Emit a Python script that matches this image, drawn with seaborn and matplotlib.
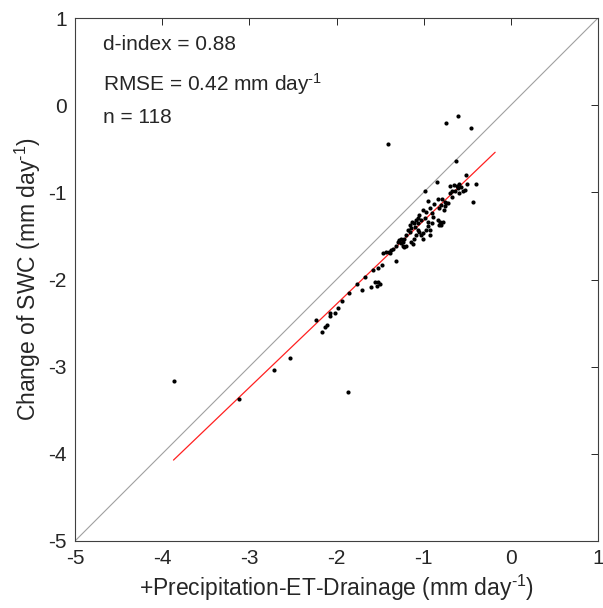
import numpy as np
import pandas as pd
import matplotlib
matplotlib.use("Agg")
import matplotlib.pyplot as plt
import seaborn as sns

# observed points: x = +P-ET-D, y = change of SWC (mm day-1)
x_vals = [
    -0.74, -0.61, -0.46, -1.41, -0.63,
    -0.52, -0.85, -0.99, -0.70, -0.65, -0.62, -0.60, -0.50, -0.40, -0.55,
    -0.59, -0.53, -0.70, -0.67, -0.43, -0.95, -0.84, -0.79, -0.75, -0.80,
    -0.76, -0.82, -0.74, -0.77, -1.01, -0.97, -1.05, -1.07, -1.03, -0.83,
    -0.78, -0.90, -0.82, -1.13, -1.11, -1.09, -0.95, -0.93, -1.16, -1.14,
    -1.18, -1.07, -1.05, -1.03, -1.01, -1.09, -1.11, -1.20, -1.22, -1.26,
    -1.24, -1.01, -1.14, -1.12, -1.22, -1.20, -1.24,
    -1.30, -1.35, -1.39, -1.43, -1.47, -1.32, -1.48, -1.52, -1.58, -1.67,
    -1.77, -1.56, -1.52, -1.50, -1.54, -1.60, -1.71,
    -1.86,
    -2.72, -2.53, -1.87, -2.24, -2.17, -2.13, -2.11, -2.08, -2.07, -2.02,
    -1.98, -1.94, -3.86, -3.12,
    -0.93, -0.91, -0.89, -0.81, -0.80, -0.95, -0.97, -0.93, -0.72, -0.68,
    -0.64, -0.57, -1.16, -1.28, -1.32, -1.26, -1.10, -1.06, -0.98, -1.40,
    -1.37, -0.88, -0.61,
]
y_vals = [
    -0.20, -0.13, -0.26, -0.45, -0.64,
    -0.80, -0.88, -0.99, -0.93, -0.92, -0.93, -0.90, -0.90, -0.91, -0.99,
    -1.01, -0.97, -1.01, -0.99, -1.11, -1.10, -1.08, -1.08, -1.11, -1.14,
    -1.16, -1.18, -1.12, -1.20, -1.20, -1.22, -1.26, -1.30, -1.32, -1.32,
    -1.34, -1.35, -1.38, -1.34, -1.35, -1.32, -1.39, -1.43, -1.37, -1.41,
    -1.43, -1.43, -1.45, -1.49, -1.47, -1.49, -1.53, -1.49, -1.53, -1.53,
    -1.57, -1.53, -1.57, -1.59, -1.63, -1.61, -1.62,
    -1.57, -1.65, -1.70, -1.68, -1.70, -1.79, -1.83, -1.87, -1.89, -1.97,
    -2.05, -2.03, -2.03, -2.05, -2.07, -2.09, -2.12,
    -2.16,
    -3.04, -2.90, -3.29, -2.47, -2.60, -2.55, -2.52, -2.39, -2.42, -2.38,
    -2.33, -2.25, -3.17, -3.37,
    -1.18, -1.24, -1.28, -1.34, -1.37, -1.34, -1.43, -1.49, -1.12, -1.05,
    -0.98, -0.94, -1.45, -1.55, -1.62, -1.58, -1.40, -1.35, -1.30, -1.69,
    -1.66, -1.13, -0.95,
]

# regression line and 1:1 line
fit_slope = 0.957
fit_intercept = -0.368
fit_x = [-3.87, -0.18]
one_to_one = [-5, 1]

ticks = [-5, -4, -3, -2, -1, 0, 1]
unit = r"mm day$^{\text{-1}}$"
stats_text = ["d-index = 0.88", "RMSE = 0.42 " + unit, "n = 118"]
stats_y = [0.70, 0.24, -0.14]

sns.set_style("white")
plt.rcParams["font.family"] = ["Liberation Sans", "DejaVu Sans"]
plt.rcParams["mathtext.fontset"] = "custom"
plt.rcParams["mathtext.rm"] = "Liberation Sans"
plt.rcParams["mathtext.it"] = "Liberation Sans"
plt.rcParams["axes.unicode_minus"] = False

pts = pd.DataFrame({"x": x_vals, "y": y_vals})
fit = pd.DataFrame({"x": fit_x, "y": [fit_slope * v + fit_intercept for v in fit_x]})
ref = pd.DataFrame({"x": one_to_one, "y": one_to_one})

fig = plt.figure(figsize=(6.03, 6.08), dpi=100)
ax = fig.add_axes([75 / 603, 67 / 608, 523 / 603, 523 / 608])

sns.lineplot(data=ref, x="x", y="y", color="#a0a0a0", linewidth=0.8, ax=ax)
sns.lineplot(data=fit, x="x", y="y", color="#ff2020", linewidth=0.9, ax=ax)
sns.scatterplot(data=pts, x="x", y="y", color="black", s=9, linewidth=0, ax=ax, zorder=3)

ax.set_xlim(-5, 1)
ax.set_ylim(-5, 1)
ax.set_xticks(ticks)
ax.set_yticks(ticks)
ax.tick_params(direction="in", length=5, width=0.7, top=True, right=True,
               labelsize=15, colors="#262626", pad=6)
for sp in ax.spines.values():
    sp.set_visible(True)
    sp.set_color("#404040")
    sp.set_linewidth(0.8)

ax.set_xlabel("+Precipitation-ET-Drainage (" + unit + ")", fontsize=16.5, color="#262626", labelpad=3)
ax.set_ylabel("Change of SWC (" + unit + ")", fontsize=16.5, color="#262626", labelpad=4)

for t, yy in zip(stats_text, stats_y):
    ax.text(-4.68, yy, t, fontsize=15, color="#262626", va="center")

fig.savefig("out.png", dpi=100)
